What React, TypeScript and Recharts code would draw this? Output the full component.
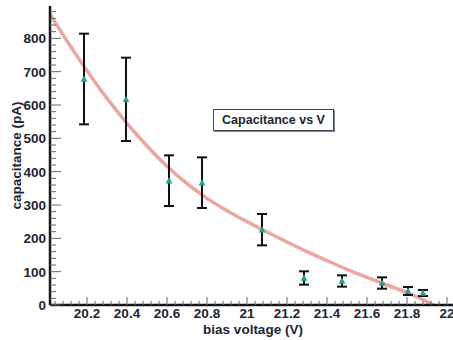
import React from 'react';
import { ComposedChart, Line, Scatter, XAxis, YAxis, ErrorBar, Legend } from 'recharts';

// measured points
const pointVoltage = [20.185, 20.395, 20.61, 20.775, 21.075, 21.285, 21.475, 21.675, 21.805, 21.88];
const pointCapacitance = [678, 617, 373, 367, 226, 81, 72, 66, 42, 36];
const pointError = [136, 125, 76, 76, 47, 20, 17, 17, 12, 9];

// fitted curve
const fitVoltage = [20.015, 20.1, 20.2, 20.3, 20.4, 20.5, 20.6, 20.7, 20.8, 20.9, 21.0, 21.1, 21.2, 21.3, 21.4, 21.5, 21.6, 21.7, 21.8, 21.9, 21.93];
const fitCapacitance = [872, 792, 703, 620, 545, 477, 416, 364, 320, 283, 250, 219, 189, 160, 133, 107, 83, 60, 37, 10, 0];

// ticks
const xMajorTicks = [20.2, 20.4, 20.6, 20.8, 21, 21.2, 21.4, 21.6, 21.8, 22];
const xTickLabels = ['20.2', '20.4', '20.6', '20.8', '21', '21.2', '21.4', '21.6', '21.8', '22'];
const yMajorTicks = [0, 100, 200, 300, 400, 500, 600, 700, 800];
const yTickLabels = ['0', '100', '200', '300', '400', '500', '600', '700', '800'];

const X_DOMAIN: [number, number] = [20.015, 22.045];
const Y_DOMAIN: [number, number] = [0, 897];

const points = pointVoltage.map((x, i) => ({ x, v: pointCapacitance[i], err: pointError[i] }));
const fit = fitVoltage.map((x, i) => ({ x, v: fitCapacitance[i] }));

const xAllTicks: number[] = [];
for (let k = 1; k <= 51; k++) {
  const t = Math.round((20 + 0.04 * k) * 100) / 100;
  if (t > X_DOMAIN[0] && t < X_DOMAIN[1]) xAllTicks.push(t);
}
const yAllTicks: number[] = [];
for (let k = 0; k <= 44; k++) yAllTicks.push(k * 20);

const FONT = '"Liberation Sans", Arial, Helvetica, sans-serif';
const TEXT = '#1b2631';
const TICK = '#5d6873';

const XTick = (props: any) => {
  const { x, y, payload } = props;
  const idx = xMajorTicks.findIndex((t) => Math.abs(t - payload.value) < 1e-6);
  const major = idx >= 0;
  return (
    <g>
      <line x1={x} x2={x} y1={y} y2={y - (major ? 8 : 4)} stroke={TICK} strokeWidth={1} />
      {major && (
        <text x={x} y={y + 13} textAnchor="middle" fontFamily={FONT} fontWeight="bold" fontSize={13.5} fill={TEXT}>
          {xTickLabels[idx]}
        </text>
      )}
    </g>
  );
};

const YTick = (props: any) => {
  const { x, y, payload } = props;
  const idx = yMajorTicks.findIndex((t) => Math.abs(t - payload.value) < 1e-6);
  const major = idx >= 0;
  return (
    <g>
      <line x1={x} x2={x + (major ? 11 : 6)} y1={y} y2={y} stroke={TICK} strokeWidth={1} />
      {major && (
        <text x={x - 4} y={y + 5} textAnchor="end" fontFamily={FONT} fontWeight="bold" fontSize={13.5} fill={TEXT}>
          {yTickLabels[idx]}
        </text>
      )}
    </g>
  );
};

const Triangle = (props: any) => {
  const { cx, cy } = props;
  if (cx == null || cy == null) return null;
  const s = 3.4;
  return <polygon points={`${cx},${cy - s} ${cx - s},${cy + s * 0.8} ${cx + s},${cy + s * 0.8}`} fill="#1fa58c" />;
};

const LegendBox = () => (
  <div
    style={{
      border: '1px solid #3d4a55',
      boxShadow: '1px 1px 0 #7a8590',
      background: '#fff',
      width: 119,
      height: 20,
      boxSizing: 'content-box',
      display: 'flex',
      alignItems: 'center',
      justifyContent: 'center',
      fontFamily: FONT,
      fontWeight: 'bold',
      fontSize: 12.5,
      color: TEXT,
      whiteSpace: 'nowrap',
    }}
  >
    Capacitance vs V
  </div>
);

export default function App() {
  return (
    <div style={{ position: 'absolute', left: 0, top: 0, width: 453, height: 340, overflow: 'hidden', background: '#fff' }}>
      <ComposedChart width={462} height={340} margin={{ top: 6, right: 6, bottom: 0, left: 0 }}>
        <XAxis
          xAxisId="top"
          orientation="top"
          type="number"
          dataKey="x"
          domain={X_DOMAIN}
          allowDataOverflow
          height={0}
          tick={false}
          tickLine={false}
          axisLine={{ stroke: '#151515', strokeWidth: 2.5 }}
        />
        <XAxis
          dataKey="x"
          type="number"
          domain={X_DOMAIN}
          allowDataOverflow
          ticks={xAllTicks}
          interval={0}
          tick={<XTick />}
          tickLine={false}
          tickSize={0}
          tickMargin={0}
          height={35}
          axisLine={{ stroke: '#151515', strokeWidth: 2.5 }}
          label={{ value: 'bias voltage (V)', position: 'center', dy: 7, fontFamily: FONT, fontWeight: 'bold', fontSize: 13.5, fill: TEXT }}
        />
        <YAxis
          type="number"
          domain={Y_DOMAIN}
          allowDataOverflow
          ticks={yAllTicks}
          interval={0}
          tick={<YTick />}
          tickLine={false}
          tickSize={0}
          tickMargin={0}
          width={50}
          axisLine={{ stroke: '#151515', strokeWidth: 2.5 }}
          label={{ value: 'capacitance (pA)', angle: -90, position: 'center', dx: -9, fontFamily: FONT, fontWeight: 'bold', fontSize: 13.5, fill: TEXT }}
        />
        <Line
          data={fit}
          dataKey="v"
          type="monotone"
          stroke="#eba79f"
          strokeWidth={3.5}
          dot={false}
          activeDot={false}
          isAnimationActive={false}
        />
        <Scatter data={points} dataKey="v" shape={<Triangle />} isAnimationActive={false}>
          <ErrorBar dataKey="err" direction="y" width={5} stroke="#111" strokeWidth={2} isAnimationActive={false} />
        </Scatter>
        <Legend
          layout="horizontal"
          verticalAlign="middle"
          align="center"
          content={<LegendBox />}
          wrapperStyle={{ position: 'absolute', left: 213, top: 109, width: 'auto', height: 'auto' }}
        />
      </ComposedChart>
    </div>
  );
}
